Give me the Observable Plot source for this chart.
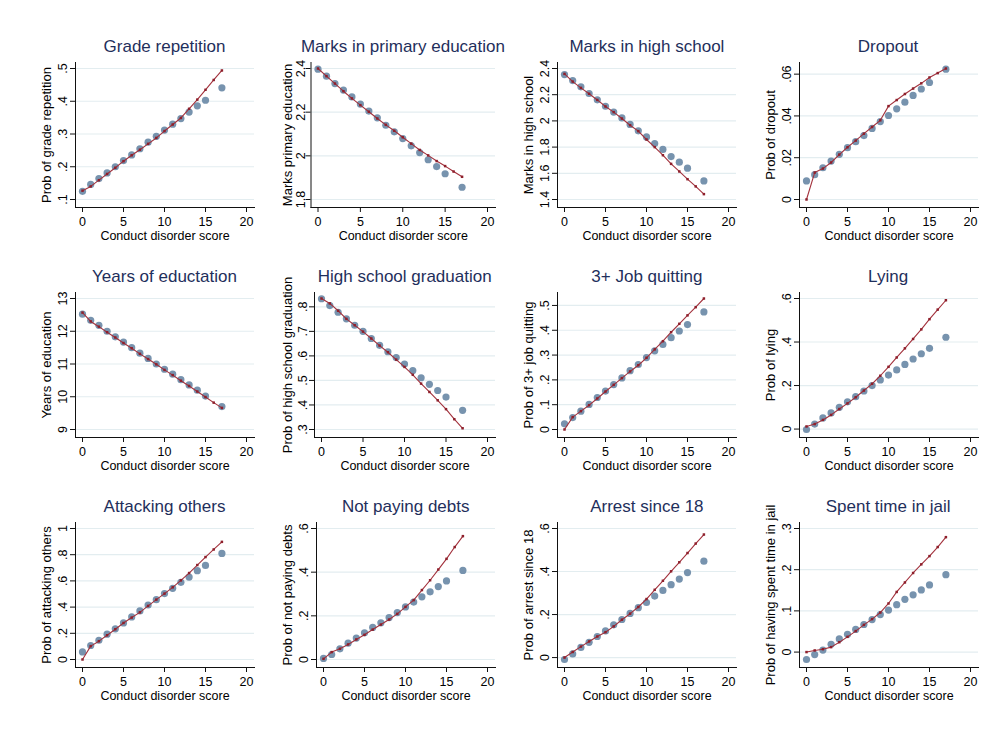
<!DOCTYPE html>
<html><head><meta charset="utf-8">
<script src="https://cdn.jsdelivr.net/npm/d3@7"></script>
<script src="https://cdn.jsdelivr.net/npm/@observablehq/plot@0.6"></script>
<style>
body{margin:0;background:#fff;font-family:"Liberation Sans",Arial,Helvetica,sans-serif;}
#root{position:relative;width:993px;height:729px;overflow:hidden;background:#fff;}
.title{position:absolute;text-align:center;font-size:17px;line-height:20px;color:#1f2f5c;white-space:nowrap;}
.panel{position:absolute;}
</style></head><body><div id="root"></div>
<script>
// x values
const scoresObs = [0,1,2,3,4,5,6,7,8,9,10,11,12,13,14,15,17];
const scoresFit = [0,1,2,3,4,5,6,7,8,9,10,11,12,13,14,15,16,17];
const xTicks = [0,5,10,15,20];
const xLabel = "Conduct disorder score";

const titles = ["Grade repetition","Marks in primary education","Marks in high school","Dropout",
  "Years of eductation","High school graduation","3+ Job quitting","Lying",
  "Attacking others","Not paying debts","Arrest since 18","Spent time in jail"];
const yLabels = ["Prob of grade repetition","Marks primary education","Marks in high school","Prob of dropout",
  "Years of education","Prob of high school graduation","Prob of 3+ job quitting","Prob of lying",
  "Prob of attacking others","Prob of not paying debts","Prob of arrest since 18","Prob of having spent time in jail"];
const yTicks = [[.1,.2,.3,.4,.5],[1.8,2,2.2,2.4],[1.4,1.6,1.8,2,2.2,2.4],[0,.02,.04,.06],
  [9,10,11,12,13],[.3,.4,.5,.6,.7,.8],[0,.1,.2,.3,.4,.5],[0,.2,.4,.6],
  [0,.2,.4,.6,.8,1],[0,.2,.4,.6],[0,.2,.4,.6],[0,.1,.2,.3]];

// observed (dots) and fitted (line) series
const gradeRepObs = [0.125,0.146,0.164,0.181,0.200,0.219,0.236,0.255,0.275,0.293,0.312,0.330,0.347,0.367,0.386,0.403,0.441];
const gradeRepFit = [0.127,0.140,0.159,0.178,0.197,0.217,0.235,0.252,0.270,0.288,0.309,0.329,0.349,0.377,0.405,0.435,0.465,0.494];
const primaryObs = [2.397,2.365,2.331,2.301,2.270,2.237,2.205,2.174,2.140,2.110,2.079,2.046,2.015,1.982,1.951,1.918,1.856];
const primaryFit = [2.400,2.365,2.331,2.296,2.263,2.232,2.202,2.171,2.142,2.115,2.085,2.056,2.027,2.002,1.976,1.953,1.928,1.904];
const highSchoolObs = [2.354,2.308,2.260,2.209,2.161,2.112,2.067,2.023,1.973,1.924,1.878,1.827,1.782,1.728,1.685,1.639,1.542];
const highSchoolFit = [2.359,2.300,2.252,2.207,2.160,2.110,2.067,2.018,1.967,1.922,1.858,1.800,1.738,1.672,1.614,1.555,1.500,1.441];
const dropoutObs = [0.0089,0.0119,0.0152,0.0184,0.0216,0.0248,0.0277,0.0306,0.0340,0.0373,0.0402,0.0434,0.0466,0.0498,0.0529,0.0560,0.0624];
const dropoutFit = [0,0.0129,0.0148,0.0177,0.0215,0.0250,0.0282,0.0315,0.0347,0.0379,0.0447,0.0476,0.0505,0.0531,0.0556,0.0584,0.0605,0.0627];
const yearsObs = [12.52,12.335,12.18,12.0,11.83,11.67,11.5,11.33,11.17,11.0,10.84,10.69,10.52,10.36,10.2,10.02,9.7];
const yearsFit = [12.57,12.30,12.14,11.97,11.81,11.64,11.48,11.31,11.15,10.99,10.82,10.66,10.49,10.33,10.16,9.99,9.82,9.66];
const hsGradObs = [0.833,0.805,0.778,0.751,0.725,0.700,0.671,0.643,0.617,0.593,0.567,0.540,0.511,0.484,0.459,0.432,0.378];
const hsGradFit = [0.834,0.814,0.784,0.751,0.725,0.699,0.671,0.642,0.615,0.585,0.555,0.523,0.487,0.453,0.419,0.383,0.342,0.305];
const jobQuitObs = [0.023,0.048,0.074,0.101,0.129,0.155,0.181,0.208,0.237,0.262,0.290,0.317,0.343,0.370,0.397,0.423,0.474];
const jobQuitFit = [0,0.050,0.074,0.098,0.125,0.153,0.180,0.207,0.234,0.259,0.289,0.323,0.356,0.392,0.426,0.460,0.493,0.528];
const lyingObs = [-0.002,0.023,0.051,0.074,0.100,0.125,0.149,0.175,0.200,0.226,0.248,0.272,0.297,0.322,0.346,0.371,0.422];
const lyingFit = [0.012,0.023,0.042,0.065,0.092,0.118,0.146,0.177,0.208,0.245,0.286,0.329,0.371,0.414,0.458,0.505,0.549,0.592];
const attackObs = [0.058,0.107,0.147,0.193,0.234,0.279,0.325,0.371,0.416,0.457,0.503,0.543,0.589,0.629,0.678,0.718,0.810];
const attackFit = [0,0.102,0.140,0.185,0.231,0.279,0.320,0.360,0.409,0.457,0.503,0.551,0.604,0.660,0.721,0.782,0.840,0.898];
const debtsObs = [0.005,0.023,0.049,0.075,0.098,0.122,0.147,0.168,0.192,0.215,0.241,0.263,0.287,0.310,0.334,0.360,0.408];
const debtsFit = [0.003,0.034,0.049,0.069,0.092,0.113,0.137,0.160,0.183,0.209,0.241,0.272,0.318,0.363,0.412,0.461,0.515,0.565];
const arrestObs = [-0.009,0.017,0.047,0.071,0.098,0.124,0.152,0.177,0.205,0.232,0.256,0.286,0.312,0.339,0.365,0.395,0.448];
const arrestFit = [0,0.026,0.051,0.075,0.098,0.118,0.145,0.176,0.204,0.235,0.272,0.315,0.357,0.401,0.443,0.486,0.530,0.572];
const jailObs = [-0.018,-0.006,0.005,0.019,0.032,0.043,0.055,0.067,0.079,0.091,0.102,0.115,0.128,0.139,0.151,0.163,0.188];
const jailFit = [0,0.004,0.007,0.012,0.024,0.037,0.051,0.066,0.080,0.096,0.118,0.146,0.169,0.192,0.213,0.233,0.255,0.279];

const obsSeries = [gradeRepObs,primaryObs,highSchoolObs,dropoutObs,yearsObs,hsGradObs,jobQuitObs,lyingObs,attackObs,debtsObs,arrestObs,jailObs];
const fitSeries = [gradeRepFit,primaryFit,highSchoolFit,dropoutFit,yearsFit,hsGradFit,jobQuitFit,lyingFit,attackFit,debtsFit,arrestFit,jailFit];

const fmt = d => { let s = String(+(+d).toFixed(6)); if (s.startsWith("0.")) s = s.slice(1); else if (s.startsWith("-0.")) s = "-" + s.slice(2); return s; };

const root = document.getElementById("root");
const FONT = "'Liberation Sans', Arial, Helvetica, sans-serif";
const W = 241, MT = 6, MB = 42, MR = 2, FH = 145;

titles.forEach((title, i) => {
  const c = i % 4, r = Math.floor(i / 4);
  const ml = i === 1 ? 54.5 : i === 5 ? 58 : 60;
  const ylabOff = i === 1 ? 23.4 : i === 5 ? 27 : 29;
  const tickPad = i === 1 ? 1.5 : i === 5 ? 3 : 4;
  const svgLeft = 15 + 241.2 * c;
  const frameTop = 61.7 + 230.3 * r;
  const obs = scoresObs.map((x, k) => ({x, y: obsSeries[i][k]}));
  const fit = scoresFit.map((x, k) => ({x, y: fitSeries[i][k]}));
  const ext = d3.extent([...yTicks[i], ...obsSeries[i], ...fitSeries[i]]);
  const chart = Plot.plot({
    width: W, height: MT + FH + MB,
    marginLeft: ml, marginRight: MR, marginTop: MT, marginBottom: MB,
    insetLeft: 7, insetRight: 8, insetTop: 6, insetBottom: 8,
    style: {fontFamily: FONT, fontSize: "12.5px", color: "#000", background: "transparent", overflow: "visible"},
    x: {domain: [0, 20]},
    y: {domain: ext},
    marks: [
      Plot.gridY(yTicks[i], {stroke: "#e3edf0", strokeOpacity: 1, strokeWidth: 1.2}),
      Plot.frame({anchor: "left", stroke: "#111"}),
      Plot.frame({anchor: "bottom", stroke: "#111"}),
      Plot.axisX(xTicks, {tickSize: 5, tickPadding: 4.5, tickFormat: d => String(d), label: null, stroke: "#111", fontSize: 12.5}),
      Plot.axisY(yTicks[i], {tickSize: 5, tickPadding: tickPad, tickRotate: -90, tickFormat: fmt, label: null, stroke: "#111", fontSize: 12.5}),
      Plot.dot(obs, {x: "x", y: "y", r: 3.6, fill: "#7793ae", stroke: "none"}),
      Plot.line(fit, {x: "x", y: "y", stroke: "#a3323d", strokeWidth: 1.1}),
      Plot.dot(fit, {x: "x", y: "y", symbol: "square", r: 1.4, fill: "#8e1f2b", stroke: "none"}),
      Plot.text([xLabel], {frameAnchor: "bottom", dy: 28, lineAnchor: "middle", fontSize: 12.5, fill: "#000"}),
      Plot.text([yLabels[i]], {frameAnchor: "left", dx: -ylabOff, rotate: -90, fontSize: 13, fill: "#000", textAnchor: "middle", lineAnchor: "middle"})
    ]
  });
  const wrap = document.createElement("div");
  wrap.className = "panel";
  wrap.style.left = svgLeft + "px";
  wrap.style.top = (frameTop - MT) + "px";
  wrap.appendChild(chart);
  root.appendChild(wrap);
  const t = document.createElement("div");
  t.className = "title";
  const cx = svgLeft + ml + (W - ml - MR) / 2;
  t.style.left = (cx - 150) + "px";
  t.style.width = "300px";
  t.style.top = (frameTop - 25) + "px";
  t.textContent = title;
  root.appendChild(t);
});
</script></body></html>
